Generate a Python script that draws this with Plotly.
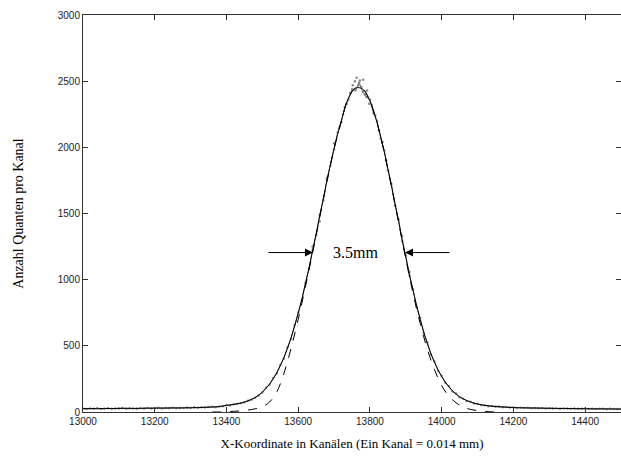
import plotly.graph_objects as go

# ---- data ----
# measured counts, one value every 10 channels from 13000 to 14500
meas_start, meas_step = 13000, 10
measured = [
    27, 22, 26, 24, 29, 23, 25, 28, 24, 27,
    26, 30, 25, 28, 27, 24, 29, 26, 31, 27,
    28, 32, 27, 30, 29, 33, 28, 31, 30, 34,
    31, 35, 33, 36, 34, 37, 39, 36, 41, 43,
    52, 50, 58, 61, 66, 74, 85, 92, 108, 124,
    148, 184, 206, 256, 291, 356, 404, 488, 553, 657,
    752, 842, 975, 1082, 1226, 1336, 1492, 1601, 1756, 1862,
    1985, 2112, 2190, 2305, 2360, 2440, 2430, 2490, 2420, 2380,
    2362, 2255, 2198, 2066, 1978, 1826, 1722, 1561, 1452, 1290,
    1182, 1031, 930, 796, 712, 598, 526, 436, 382, 312,
    272, 221, 196, 155, 139, 112, 101, 83, 78, 65,
    62, 53, 51, 44, 45, 40, 41, 36, 37, 34,
    35, 31, 33, 30, 32, 29, 31, 28, 30, 27,
    29, 26, 28, 25, 27, 26, 24, 27, 25, 24,
    26, 23, 25, 22, 24, 25, 21, 24, 22, 23,
    22,
]
meas_x = [meas_start + meas_step * i for i in range(len(measured))]

# extra scattered readings around the peak (grey stipple)
scatter_x = [13640, 13660, 13680, 13700, 13715, 13725, 13735, 13745, 13752, 13758,
             13763, 13768, 13772, 13776, 13781, 13786, 13792, 13798, 13805, 13815,
             13825, 13835, 13845, 13870, 13890, 13910]
scatter_y = [1250, 1440, 1770, 2030, 2150, 2250, 2330, 2410, 2470, 2500,
             2525, 2470, 2505, 2455, 2510, 2400, 2430, 2330, 2320, 2240,
             2130, 2040, 1900, 1560, 1330, 1060]

# fitted curve incl. background, every 20 channels
fit_x = list(range(13000, 14501, 20))
fit_y = [
    25, 26, 25, 27, 26, 27, 28, 27, 28, 29,
    29, 30, 30, 31, 31, 32, 33, 35, 38, 41,
    50, 57, 68, 84, 110, 150, 210, 295, 410, 560,
    745, 965, 1215, 1480, 1745, 1992, 2198, 2372, 2448, 2440,
    2350, 2185, 1965, 1710, 1440, 1170, 920, 700, 518, 375,
    268, 190, 135, 99, 76, 60, 50, 43, 39, 36,
    34, 32, 31, 30, 29, 28, 27, 27, 26, 25,
    25, 24, 24, 23, 23, 22,
]

# pure Gaussian (dashed), every 20 channels
gauss_x = list(range(13360, 14161, 20))
gauss_y = [
    0, 0, 2, 5, 9, 15, 24, 40, 75, 150,
    290, 480, 700, 945, 1200, 1470, 1738, 1988, 2195, 2370,
    2448, 2440, 2348, 2182, 1960, 1703, 1430, 1155, 900, 670,
    475, 320, 200, 120, 70, 38, 20, 10, 4, 1, 0,
]

# FWHM marker (channels) and half-maximum level
fwhm_left, fwhm_right = 13641, 13898
half_max = 1205
fwhm_label = "3.5mm"

x_ticks = [13000, 13200, 13400, 13600, 13800, 14000, 14200, 14400]
y_ticks = [0, 500, 1000, 1500, 2000, 2500, 3000]

fig = go.Figure()
fig.add_trace(go.Scatter(
    x=meas_x, y=measured, mode="lines+markers",
    line=dict(color="rgba(60,60,60,0.9)", width=0.8),
    marker=dict(color="rgba(120,120,120,0.8)", size=2.5),
    hoverinfo="skip", showlegend=False))
fig.add_trace(go.Scatter(
    x=scatter_x, y=scatter_y, mode="markers",
    marker=dict(color="rgba(110,110,110,0.8)", size=2.5),
    hoverinfo="skip", showlegend=False))
fig.add_trace(go.Scatter(
    x=gauss_x, y=gauss_y, mode="lines", line_shape="spline",
    line=dict(color="black", width=1, dash="dash"),
    hoverinfo="skip", showlegend=False))
fig.add_trace(go.Scatter(
    x=fit_x, y=fit_y, mode="lines", line_shape="spline",
    line=dict(color="black", width=1),
    hoverinfo="skip", showlegend=False))

arrow_len = 128
fig.add_annotation(x=fwhm_left, y=half_max, ax=fwhm_left - arrow_len, ay=half_max,
                   xref="x", yref="y", axref="x", ayref="y", text="",
                   showarrow=True, arrowhead=2, arrowsize=1.6, arrowwidth=1,
                   arrowcolor="black")
fig.add_annotation(x=fwhm_right, y=half_max, ax=fwhm_right + arrow_len, ay=half_max,
                   xref="x", yref="y", axref="x", ayref="y", text="",
                   showarrow=True, arrowhead=2, arrowsize=1.6, arrowwidth=1,
                   arrowcolor="black")
fig.add_annotation(x=(fwhm_left + fwhm_right) / 2 - 10, y=half_max, text=fwhm_label,
                   showarrow=False, xref="x", yref="y",
                   font=dict(family="Liberation Serif", size=16, color="black"))

axis_common = dict(showline=True, linecolor="#333333", linewidth=1, mirror="ticks",
                   ticks="inside", ticklen=5, tickcolor="#333333", showgrid=False,
                   zeroline=False,
                   tickfont=dict(family="Liberation Sans", size=10, color="#222222"))

fig.update_xaxes(range=[13000, 14500], tickvals=x_ticks,
                 ticktext=[str(v) for v in x_ticks],
                 title=dict(text="X-Koordinate in Kanälen (Ein Kanal = 0.014 mm)",
                            font=dict(family="Liberation Serif", size=13, color="black"),
                            standoff=12),
                 **axis_common)
fig.update_yaxes(range=[0, 3000], tickvals=y_ticks,
                 ticktext=[str(v) for v in y_ticks],
                 title=dict(text="Anzahl Quanten pro Kanal",
                            font=dict(family="Liberation Serif", size=14, color="black"),
                            standoff=30),
                 **axis_common)

fig.update_layout(width=621, height=462,
                  margin=dict(l=83, r=0, t=15, b=50),
                  paper_bgcolor="white", plot_bgcolor="white")

fig.write_html("out.html")
